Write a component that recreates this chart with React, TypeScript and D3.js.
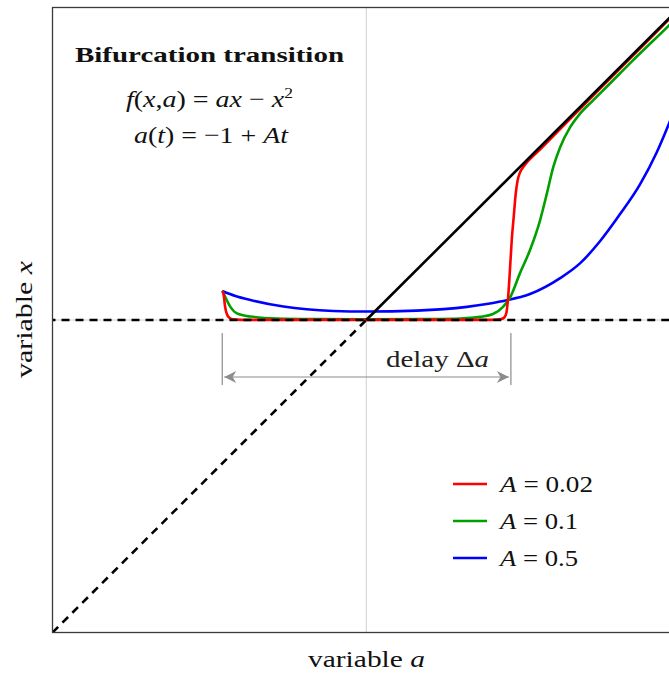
import React from "react";
import * as d3 from "d3";

// Sampled trajectories x(a) for three ramp rates A (a runs from about -0.46 to 1)
const redA = [-0.459, -0.455, -0.45, -0.44, -0.425, -0.4, -0.2, 0, 0.2, 0.4, 0.43, 0.44, 0.447, 0.452, 0.458, 0.464, 0.47, 0.476, 0.482, 0.49, 0.5, 0.51, 0.52, 0.56, 0.65, 0.75, 0.85, 0.95, 1.0];
const redX = [0.093, 0.085, 0.043, 0.011, 0.002, 0.0005, 0.0003, 0.0003, 0.0003, 0.0005, 0.003, 0.008, 0.025, 0.07, 0.16, 0.26, 0.33, 0.4, 0.445, 0.472, 0.489, 0.502, 0.513, 0.552, 0.644, 0.745, 0.846, 0.947, 0.997];

const greenA = [-0.459, -0.455, -0.433, -0.412, -0.369, -0.284, -0.146, 0, 0.172, 0.3, 0.363, 0.404, 0.436, 0.459, 0.49, 0.522, 0.554, 0.576, 0.596, 0.618, 0.65, 0.682, 0.723, 0.768, 0.85, 0.965, 1.0];
const greenX = [0.093, 0.085, 0.042, 0.021, 0.011, 0.005, 0.003, 0.002, 0.003, 0.005, 0.01, 0.019, 0.042, 0.073, 0.15, 0.224, 0.319, 0.406, 0.489, 0.553, 0.617, 0.661, 0.703, 0.748, 0.831, 0.943, 0.978];

const blueA = [-0.459, -0.417, -0.369, -0.264, -0.105, 0.002, 0.161, 0.321, 0.427, 0.522, 0.618, 0.682, 0.745, 0.809, 0.873, 0.926, 0.965, 1.0];
const blueX = [0.093, 0.077, 0.064, 0.043, 0.029, 0.027, 0.03, 0.042, 0.059, 0.083, 0.134, 0.182, 0.252, 0.339, 0.435, 0.537, 0.629, 0.72];

const seriesNames = ["0.02", "0.1", "0.5"];
const seriesColors = ["#ff0000", "#00a000", "#0000ff"];

// Delay interval marked under the plateau
const delayStart = -0.459;
const delayEnd = 0.461;

const W = 669;
const H = 675;
const serif = "'Liberation Serif', 'Times New Roman', serif";
const fit = "spacingAndGlyphs";

export default function App() {
  const xs = d3.scaleLinear().domain([-1, 1]).range([52.5, 680]);
  const ys = d3.scaleLinear().domain([-1, 1]).range([632.5, 7.5]);

  const line = d3
    .line<[number, number]>()
    .x((d) => xs(d[0]))
    .y((d) => ys(d[1]))
    .curve(d3.curveMonotoneX);

  const series = [
    { a: redA, x: redX },
    { a: greenA, x: greenX },
    { a: blueA, x: blueX },
  ].map((s) => s.a.map((v, i) => [v, s.x[i]] as [number, number]));

  const x0 = xs(-1), x1 = xs(1), y0 = ys(-1), y1 = ys(1);
  const ds = xs(delayStart), de = xs(delayEnd);
  const arrowY = 377;

  const legendX = 453;
  const legendY = [484, 521, 558];
  const legendLen = [93, 78, 78];

  return (
    <svg
      width={W}
      height={H}
      style={{ position: "absolute", left: 0, top: 0, background: "#fff" }}
      fontFamily={serif}
    >
      <defs>
        <clipPath id="plotArea">
          <rect x={x0} y={y1} width={x1 - x0} height={y0 - y1} />
        </clipPath>
        <marker id="arrowHead" viewBox="0 0 10 10" refX="10" refY="5" markerWidth="18" markerHeight="12" markerUnits="userSpaceOnUse" orient="auto-start-reverse">
          <path d="M0,0 L10,5 L0,10 L3,5 Z" fill="#8c8c8c" />
        </marker>
      </defs>

      {/* reference grid lines at a = 0 and x = 0 */}
      <line x1={xs(0)} x2={xs(0)} y1={y1} y2={y0} stroke="#d0d0d0" strokeWidth={1} />
      <line x1={x0} x2={x1} y1={ys(0)} y2={ys(0)} stroke="#d0d0d0" strokeWidth={1} />

      <g clipPath="url(#plotArea)">
        {/* trajectories, slowest ramp drawn last */}
        {[2, 1, 0].map((i) => (
          <path key={i} d={line(series[i]) ?? ""} fill="none" stroke={seriesColors[i]} strokeWidth={2.6} strokeLinejoin="round" />
        ))}

        {/* equilibrium branches: stable solid, unstable dashed */}
        <line x1={xs(-1)} y1={ys(-1)} x2={xs(0)} y2={ys(0)} stroke="#000" strokeWidth={2.6} strokeDasharray="8,6" />
        <line x1={xs(0)} y1={ys(0)} x2={xs(1)} y2={ys(1)} stroke="#000" strokeWidth={2.6} />
        <line x1={xs(0)} y1={ys(0)} x2={xs(1)} y2={ys(0)} stroke="#000" strokeWidth={2.6} strokeDasharray="8,6" strokeDashoffset={-1} />
        <line x1={xs(-1)} y1={ys(0)} x2={xs(0)} y2={ys(0)} stroke="#000" strokeWidth={2.6} strokeDasharray="8,6" strokeDashoffset={5} />
      </g>

      {/* frame */}
      <rect x={x0} y={y1} width={x1 - x0} height={y0 - y1} fill="none" stroke="#3a3a3a" strokeWidth={1.3} />

      {/* delay annotation */}
      <g stroke="#8c8c8c" strokeWidth={1.2}>
        <line x1={ds} x2={ds} y1={333} y2={385} />
        <line x1={de} x2={de} y1={333} y2={385} />
        <line x1={ds + 2} x2={de - 2} y1={arrowY} y2={arrowY} markerStart="url(#arrowHead)" markerEnd="url(#arrowHead)" />
      </g>
      <text x={386} y={367} fontSize={24} fill="#222" textLength={103} lengthAdjust={fit}>
        delay Δ<tspan fontStyle="italic">a</tspan>
      </text>

      {/* title and model equations */}
      <text x={75} y={62} fontSize={22} fontWeight="bold" fill="#111" textLength={269} lengthAdjust={fit}>
        Bifurcation transition
      </text>
      <text x={126} y={107} fontSize={24} fill="#111" textLength={167} lengthAdjust={fit}>
        <tspan fontStyle="italic">f</tspan>(<tspan fontStyle="italic">x</tspan>,<tspan fontStyle="italic">a</tspan>) = <tspan fontStyle="italic">ax</tspan> − <tspan fontStyle="italic">x</tspan>
        <tspan dy={-9} fontSize={15}>2</tspan>
      </text>
      <text x={134} y={143} fontSize={24} fill="#111" textLength={154} lengthAdjust={fit}>
        <tspan fontStyle="italic">a</tspan>(<tspan fontStyle="italic">t</tspan>) = −1 + <tspan fontStyle="italic">At</tspan>
      </text>

      {/* legend */}
      {seriesNames.map((name, i) => (
        <g key={name}>
          <line x1={legendX} x2={legendX + 34} y1={legendY[i]} y2={legendY[i]} stroke={seriesColors[i]} strokeWidth={2.6} />
          <text x={legendX + 47} y={legendY[i] + 8} fontSize={24} fill="#111" textLength={legendLen[i]} lengthAdjust={fit}>
            <tspan fontStyle="italic">A</tspan> = {name}
          </text>
        </g>
      ))}

      {/* axis titles */}
      <text x={308} y={667} fontSize={24} fill="#111" textLength={117} lengthAdjust={fit}>
        variable <tspan fontStyle="italic">a</tspan>
      </text>
      <text transform={`translate(32, ${ys(0) + 58}) rotate(-90)`} fontSize={24} fill="#111" textLength={117} lengthAdjust={fit}>
        variable <tspan fontStyle="italic">x</tspan>
      </text>
    </svg>
  );
}
